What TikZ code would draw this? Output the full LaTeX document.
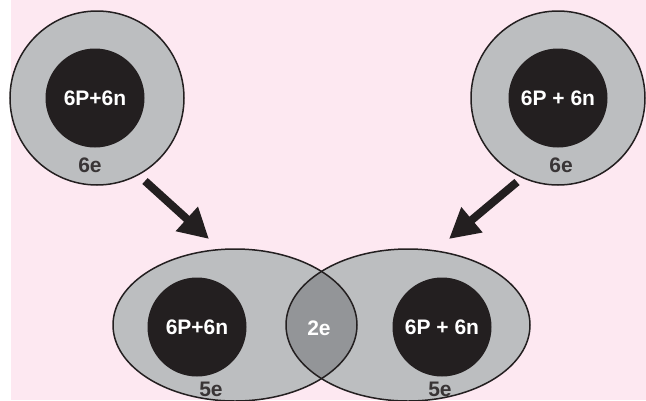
\documentclass[tikz,border=0pt]{standalone}
\usepackage{fontspec}
\setmainfont{Liberation Sans}
\usepackage{tikz}
\usetikzlibrary{arrows.meta}
\definecolor{atompink}{HTML}{FDE8F1}
\definecolor{atomgray}{HTML}{BCBEC0}
\definecolor{atomdark}{HTML}{231F20}
\definecolor{atomshare}{HTML}{939598}

\begin{document}
\begin{tikzpicture}[x=1pt,y=-1pt,
  shell/.style={circle,draw=atomdark,line width=1.5pt,fill=atomgray,minimum size=174pt,inner sep=0pt},
  nucleus/.style={circle,fill=atomdark,text=white,minimum size=99pt,inner sep=0pt,font=\bfseries\fontsize{21}{25}\selectfont},
  elabel/.style={text=atomdark!90,font=\bfseries\fontsize{21}{25}\selectfont,inner sep=0pt},
  bigarrow/.style={atomdark,line width=8pt,-{Triangle[length=30pt,width=31pt]}}]
  \useasboundingbox (0,0) rectangle (646,400);
  \fill[atompink] (11,0) rectangle (646,400);
  % two separate carbon atoms
  \node[shell] (shellL) at (97,98) {};
  \node[nucleus] (nucL) at (95,98) {6P+6n};
  \node[elabel] (eL) at (90,165) {6e};
  \node[shell] (shellR) at (558,98) {};
  \node[nucleus] (nucR) at (558,98) {6P + 6n};
  \node[elabel] (eR) at (561,165) {6e};
  % arrows
  \coordinate (tipL) at (209,239);
  \coordinate (tipR) at (449,239);
  \draw[bigarrow] (145,181) -- (tipL);
  \draw[bigarrow] (517,182) -- (tipR);
  % bonded pair, shared shell
  \fill[atomgray] (235,325) ellipse[x radius=122,y radius=76];
  \fill[atomgray] (408,325) ellipse[x radius=122,y radius=76];
  \begin{scope}
    \clip (235,325) ellipse[x radius=122,y radius=76];
    \fill[atomshare] (408,325) ellipse[x radius=122,y radius=76];
  \end{scope}
  \draw[atomdark,line width=1.5pt] (235,325) ellipse[x radius=122,y radius=76];
  \draw[atomdark,line width=1.5pt] (408,325) ellipse[x radius=122,y radius=76];
  \node[nucleus] (nucBL) at (197,327) {6P+6n};
  \node[nucleus] (nucBR) at (442,327) {6P + 6n};
  \node[elabel,text=white] (eShared) at (319,328) {2e};
  \node[elabel] (eBL) at (211,389) {5e};
  \node[elabel] (eBR) at (440,389) {5e};
\end{tikzpicture}
\end{document}
